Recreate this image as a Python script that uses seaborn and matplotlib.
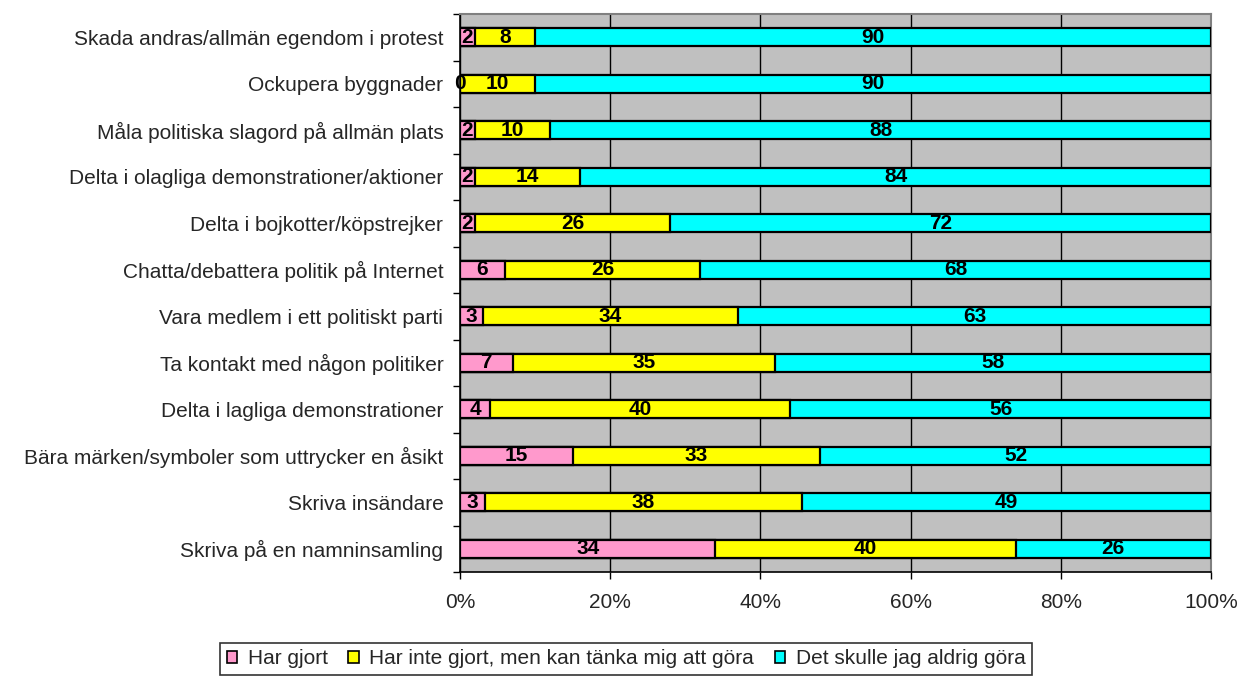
import numpy as np
import pandas as pd
import seaborn as sns
import matplotlib.pyplot as plt
from matplotlib.ticker import FixedLocator, PercentFormatter
from matplotlib.patches import Patch

categories = [
    "Skada andras/allmän egendom i protest",
    "Ockupera byggnader",
    "Måla politiska slagord på allmän plats",
    "Delta i olagliga demonstrationer/aktioner",
    "Delta i bojkotter/köpstrejker",
    "Chatta/debattera politik på Internet",
    "Vara medlem i ett politiskt parti",
    "Ta kontakt med någon politiker",
    "Delta i lagliga demonstrationer",
    "Bära märken/symboler som uttrycker en åsikt",
    "Skriva insändare",
    "Skriva på en namninsamling",
]
har_gjort = [2, 0, 2, 2, 2, 6, 3, 7, 4, 15, 3, 34]
kan_tanka = [8, 10, 10, 14, 26, 26, 34, 35, 40, 33, 38, 40]
aldrig = [90, 90, 88, 84, 72, 68, 63, 58, 56, 52, 49, 26]

series_names = ["Har gjort", "Har inte gjort, men kan tänka mig att göra", "Det skulle jag aldrig göra"]
colors = ["#FF99CC", "#FFFF00", "#00FFFF"]

sns.set_style("white")
plt.rcParams['font.family'] = ['Liberation Sans', 'DejaVu Sans']

vals = np.array([har_gjort, kan_tanka, aldrig], dtype=float)
shares = vals / vals.sum(axis=0)
cum = np.cumsum(shares, axis=0)

df = pd.DataFrame({"cat": categories})
for i in range(3):
    df[f"cum{i}"] = cum[i]

fig = plt.figure(figsize=(12.42, 6.8), dpi=100)
ax = fig.add_axes([460 / 1242, 1 - 572 / 680, 751 / 1242, 558 / 680])
ax.set_facecolor("#C0C0C0")

# overlay cumulative bars, widest first
for i in [2, 1, 0]:
    sns.barplot(data=df, x=f"cum{i}", y="cat", orient="h", color=colors[i],
                edgecolor="black", linewidth=1.6, width=0.38, saturation=1, ax=ax, zorder=3)

# segment labels
for j in range(len(categories)):
    start = 0.0
    for i in range(3):
        mid = start + shares[i, j] / 2
        ax.text(mid, j, f"{int(vals[i, j])}", ha="center", va="center",
                fontsize=15, fontweight="bold", color="black", zorder=5)
        start = cum[i, j]

ax.set_xlim(0, 1)
ax.set_ylim(len(categories) - 0.5, -0.5)
ax.xaxis.set_major_locator(FixedLocator([0, 0.2, 0.4, 0.6, 0.8, 1.0]))
ax.xaxis.set_major_formatter(PercentFormatter(1.0, decimals=0))
ax.grid(axis="x", color="black", linewidth=1.0, zorder=0)
ax.set_axisbelow(True)
ax.set_xlabel("")
ax.set_ylabel("")

ax.tick_params(axis="y", which="major", length=0, labelsize=15, pad=12)
ax.yaxis.set_minor_locator(FixedLocator(np.arange(-0.5, len(categories), 1.0)))
ax.tick_params(axis="y", which="minor", length=5, width=1, color="black", direction="out", left=True)
ax.tick_params(axis="x", which="major", length=5, width=1, color="black", direction="out",
               bottom=True, labelsize=15, pad=10)

for side in ["top", "right"]:
    ax.spines[side].set_color("#808080")
    ax.spines[side].set_linewidth(1.5)
for side in ["left", "bottom"]:
    ax.spines[side].set_color("black")
    ax.spines[side].set_linewidth(1.2)

handles = [Patch(facecolor=c, edgecolor="black", linewidth=1.2) for c in colors]
leg = fig.legend(handles, series_names, loc="center", bbox_to_anchor=(626 / 1242, 1 - 659 / 680),
                 ncol=3, frameon=True, fancybox=False, fontsize=15, handlelength=0.5,
                 handleheight=0.5, handletextpad=0.5, columnspacing=1.0, borderpad=0.3,
                 borderaxespad=0)
leg.get_frame().set_edgecolor("black")
leg.get_frame().set_linewidth(1.2)

fig.savefig("out.png", dpi=100)
